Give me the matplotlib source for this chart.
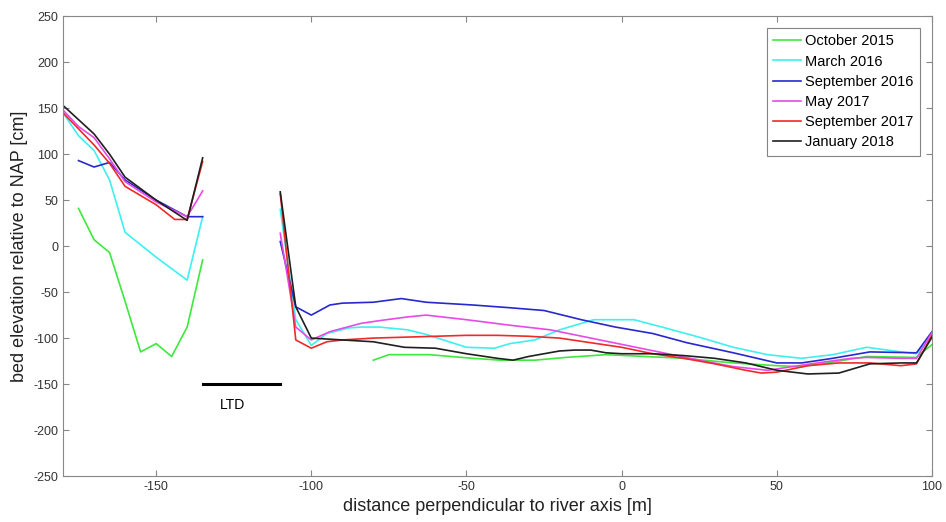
import matplotlib
matplotlib.use("Agg")
import matplotlib.pyplot as plt

plt.rcParams['font.family'] = ['Liberation Sans', 'DejaVu Sans']
plt.rcParams['axes.unicode_minus'] = False

# ---- data (x in m, y in cm) ----
labels = ["October 2015", "March 2016", "September 2016",
          "May 2017", "September 2017", "January 2018"]
colors = ["#3ee83e", "#3ef0f0", "#2828d0", "#e84ae8", "#ee2a2a", "#202020"]

# left bank section
oct15_lx = [-175, -170, -165, -160, -155, -150, -145, -140, -135]
oct15_ly = [41, 7, -7, -60, -115, -106, -120, -88, -15]
mar16_lx = [-180, -175, -170, -165, -160, -150, -140, -135]
mar16_ly = [145, 120, 104, 72, 15, -12, -37, 32]
sep16_lx = [-175, -170, -165, -160, -150, -140, -135]
sep16_ly = [93, 86, 91, 72, 50, 32, 32]
may17_lx = [-180, -175, -170, -165, -160, -150, -140, -135]
may17_ly = [148, 130, 118, 95, 70, 48, 32, 60]
sep17_lx = [-180, -170, -165, -160, -150, -144, -140, -135]
sep17_ly = [145, 110, 90, 65, 45, 29, 29, 92]
jan18_lx = [-180, -170, -165, -160, -150, -140, -135]
jan18_ly = [153, 122, 100, 75, 50, 28, 96]

# right section (river bed)
oct15_rx = [-80, -75, -62, -48, -39, -28, -18, -5, 20, 36, 50, 58, 68, 79, 95, 100]
oct15_ry = [-124, -118, -118, -122, -124, -124, -121, -118, -122, -127, -130, -131, -126, -120, -121, -107]
mar16_rx = [-110, -105, -100, -95, -88, -84, -78, -69, -63, -50, -41, -36, -28, -20,
            -9, 4, 13, 25, 36, 47, 58, 68, 79, 90, 95, 100]
mar16_ry = [40, -80, -108, -95, -89, -88, -88, -91, -96, -110, -111, -106, -102, -91,
            -80, -80, -88, -99, -110, -118, -122, -118, -110, -115, -117, -98]
sep16_rx = [-110, -105, -100, -94, -90, -80, -71, -63, -48, -36, -25, -13, -2, 10,
            21, 36, 50, 58, 68, 80, 95, 100]
sep16_ry = [5, -66, -75, -64, -62, -61, -57, -61, -64, -67, -70, -80, -88, -95,
            -105, -116, -127, -127, -122, -115, -116, -93]
may17_rx = [-110, -105, -100, -94, -84, -78, -69, -63, -50, -36, -23, -7, 9, 25,
            36, 47, 55, 63, 74, 79, 90, 95, 100]
may17_ry = [14, -88, -102, -93, -84, -81, -77, -75, -80, -86, -91, -102, -113, -124,
            -131, -135, -131, -127, -122, -121, -122, -122, -94]
sep17_rx = [-110, -105, -100, -95, -90, -80, -70, -60, -50, -40, -30, -20, -10, 0,
            10, 20, 30, 40, 45, 50, 60, 70, 80, 90, 95, 100]
sep17_ry = [57, -102, -111, -104, -102, -100, -99, -98, -97, -97, -98, -100, -105, -110,
            -117, -122, -128, -135, -138, -137, -130, -127, -127, -130, -128, -97]
jan18_rx = [-110, -105, -100, -95, -90, -80, -70, -60, -50, -40, -35, -30, -20, -15,
            -10, -5, 0, 10, 20, 30, 40, 50, 60, 70, 80, 90, 95, 100]
jan18_ry = [59, -66, -100, -101, -102, -104, -110, -111, -117, -122, -124, -120, -114, -113,
            -113, -116, -117, -117, -119, -122, -127, -135, -139, -138, -128, -127, -127, -99]

left_x = [oct15_lx, mar16_lx, sep16_lx, may17_lx, sep17_lx, jan18_lx]
left_y = [oct15_ly, mar16_ly, sep16_ly, may17_ly, sep17_ly, jan18_ly]
right_x = [oct15_rx, mar16_rx, sep16_rx, may17_rx, sep17_rx, jan18_rx]
right_y = [oct15_ry, mar16_ry, sep16_ry, may17_ry, sep17_ry, jan18_ry]

ltd_x = [-135, -110]
ltd_y = -150

fig = plt.figure(figsize=(9.46, 5.22), dpi=100)
ax = fig.add_axes([0.0666, 0.088, 0.9186, 0.881])

for i in range(len(labels)):
    ax.plot(left_x[i], left_y[i], color=colors[i], lw=1.2, label=labels[i])
    ax.plot(right_x[i], right_y[i], color=colors[i], lw=1.2)

# LTD marker
ax.plot(ltd_x, [ltd_y, ltd_y], color="black", lw=2.2)
ax.text(-125.5, -173, "LTD", ha="center", va="center", fontsize=10)

ax.set_xlim(-180, 100)
ax.set_ylim(-250, 250)
ax.set_xticks([-150, -100, -50, 0, 50, 100])
ax.set_yticks(range(-250, 251, 50))
ax.tick_params(direction="in", top=True, right=True, length=4,
               colors="#888888", labelcolor="#333333", labelsize=9)
for s in ax.spines.values():
    s.set_color("#888888")
    s.set_linewidth(0.8)

ax.set_xlabel("distance perpendicular to river axis [m]", fontsize=13, color="#222222")
ax.set_ylabel("bed elevation relative to NAP [cm]", fontsize=13, color="#222222")

leg = ax.legend(loc="upper right", fontsize=10.5, frameon=True, fancybox=False,
                edgecolor="#666666", handlelength=1.9, borderaxespad=0.8,
                labelspacing=0.42, handletextpad=0.3, borderpad=0.45)
leg.get_frame().set_linewidth(0.8)

fig.savefig("out.png", dpi=100)
